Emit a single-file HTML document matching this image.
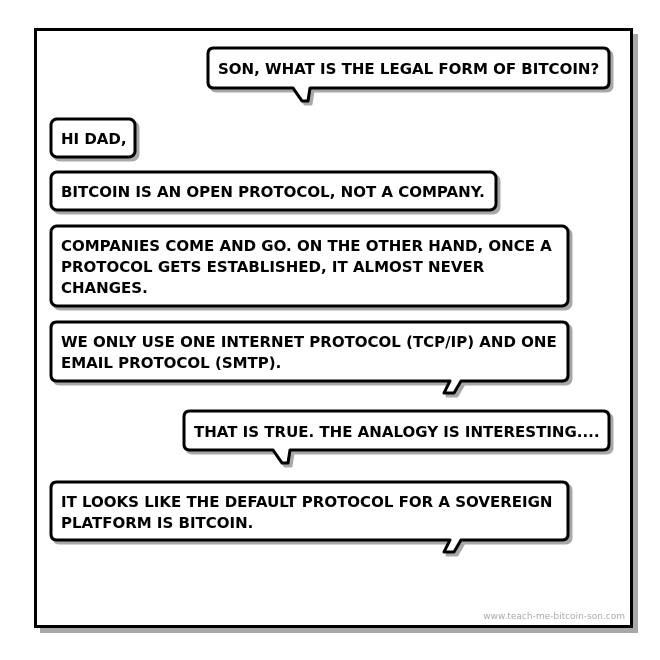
<!DOCTYPE html>
<html><head><style>
html,body{margin:0;padding:0;background:#fff;}
svg{display:block}
text{font-family:"DejaVu Sans","Liberation Sans",sans-serif;font-weight:bold;font-size:15px;fill:#000}
</style></head><body>
<svg width="660" height="660" viewBox="0 0 660 660" xmlns="http://www.w3.org/2000/svg">
<rect x="0" y="0" width="660" height="660" fill="#fff"/>
<rect x="40" y="34" width="598" height="599" fill="#a8a8a8"/>
<rect x="35.5" y="29.5" width="596" height="597" fill="#fff" stroke="#000" stroke-width="3"/>
<g fill="#fff" stroke-width="3" stroke-linejoin="round">
<path transform="translate(3,3)" fill="#a8a8a8" stroke="#a8a8a8" d="M214,48 H603 Q609,48 609,54 V82 Q609,88 603,88 H310 L308,101 L302,101 L293,88 H214 Q208,88 208,82 V54 Q208,48 214,48 Z"/>
<path stroke="#000" d="M214,48 H603 Q609,48 609,54 V82 Q609,88 603,88 H310 L308,101 L302,101 L293,88 H214 Q208,88 208,82 V54 Q208,48 214,48 Z"/>
<rect x="51" y="119" width="84" height="38" rx="6" fill="#a8a8a8" stroke="#a8a8a8" transform="translate(3,3)"/>
<rect x="51" y="119" width="84" height="38" rx="6" stroke="#000"/>
<rect x="51" y="172" width="445" height="38" rx="6" fill="#a8a8a8" stroke="#a8a8a8" transform="translate(3,3)"/>
<rect x="51" y="172" width="445" height="38" rx="6" stroke="#000"/>
<rect x="51" y="226" width="517" height="80" rx="6" fill="#a8a8a8" stroke="#a8a8a8" transform="translate(3,3)"/>
<rect x="51" y="226" width="517" height="80" rx="6" stroke="#000"/>
<path transform="translate(3,3)" fill="#a8a8a8" stroke="#a8a8a8" d="M57,322 H562 Q568,322 568,328 V375 Q568,381 562,381 H461 L454,393 L444,393 L450,381 H57 Q51,381 51,375 V328 Q51,322 57,322 Z"/>
<path stroke="#000" d="M57,322 H562 Q568,322 568,328 V375 Q568,381 562,381 H461 L454,393 L444,393 L450,381 H57 Q51,381 51,375 V328 Q51,322 57,322 Z"/>
<path transform="translate(3,3)" fill="#a8a8a8" stroke="#a8a8a8" d="M190,411 H603 Q609,411 609,417 V444 Q609,450 603,450 H290 L288,463 L282,463 L273,450 H190 Q184,450 184,444 V417 Q184,411 190,411 Z"/>
<path stroke="#000" d="M190,411 H603 Q609,411 609,417 V444 Q609,450 603,450 H290 L288,463 L282,463 L273,450 H190 Q184,450 184,444 V417 Q184,411 190,411 Z"/>
<path transform="translate(3,3)" fill="#a8a8a8" stroke="#a8a8a8" d="M57,482 H562 Q568,482 568,488 V534 Q568,540 562,540 H461 L454,552 L444,552 L450,540 H57 Q51,540 51,534 V488 Q51,482 57,482 Z"/>
<path stroke="#000" d="M57,482 H562 Q568,482 568,488 V534 Q568,540 562,540 H461 L454,552 L444,552 L450,540 H57 Q51,540 51,534 V488 Q51,482 57,482 Z"/>
</g>
<text x="218" y="74">SON, WHAT IS THE LEGAL FORM OF BITCOIN?</text>
<text x="61" y="144">HI DAD,</text>
<text x="61" y="197">BITCOIN IS AN OPEN PROTOCOL, NOT A COMPANY.</text>
<text x="61" y="251">COMPANIES COME AND GO. ON THE OTHER HAND, ONCE A</text>
<text x="61" y="272">PROTOCOL GETS ESTABLISHED, IT ALMOST NEVER</text>
<text x="61" y="293">CHANGES.</text>
<text x="61" y="347">WE ONLY USE ONE INTERNET PROTOCOL (TCP/IP) AND ONE</text>
<text x="61" y="368">EMAIL PROTOCOL (SMTP).</text>
<text x="194" y="437">THAT IS TRUE. THE ANALOGY IS INTERESTING....</text>
<text x="61" y="507">IT LOOKS LIKE THE DEFAULT PROTOCOL FOR A SOVEREIGN</text>
<text x="61" y="528">PLATFORM IS BITCOIN.</text>
<text x="625" y="619" text-anchor="end" style="font-weight:normal;font-size:9px;fill:#aaa">www.teach-me-bitcoin-son.com</text>
</svg>
</body></html>
